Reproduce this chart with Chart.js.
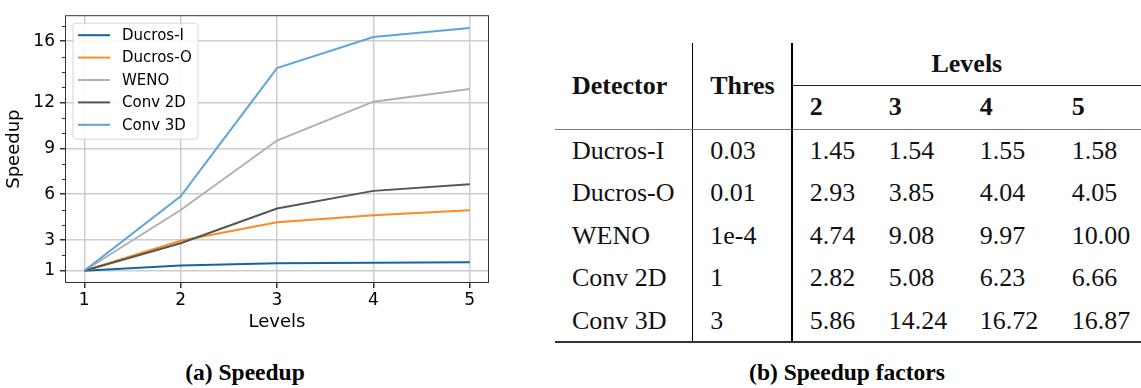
<!DOCTYPE html>
<html lang="en">
<head>
  <meta charset="UTF-8">
  <title>Speedup</title>
  <script src="https://cdn.jsdelivr.net/npm/chart.js"></script>
  <style>
    body {
      margin: 0;
      width: 1141px;
      height: 388px;
      background: #fff;
      position: relative;
      overflow: hidden;
    }
    #chartBox {
      position: absolute;
      left: 0;
      top: 0;
      width: 500px;
      height: 340px;
    }
    .caption {
      position: absolute;
      top: 360px;
      width: 400px;
      text-align: center;
      font-family: 'Liberation Serif', serif;
      font-weight: bold;
      font-size: 23.5px;
      line-height: 24px;
      color: #000;
    }
    #factors {
      position: absolute;
      left: 555px;
      top: 43px;
      border-collapse: collapse;
      table-layout: fixed;
      font-family: 'Liberation Serif', serif;
      font-size: 26px;
      line-height: 30px;
      color: #111;
    }
    #factors td, #factors th {
      padding: 0 0 0 17px;
      text-align: left;
      white-space: nowrap;
    }
    #factors th { font-weight: bold; }
    #factors .sep { border-right: 1px solid #000; }
    #factors .thick { border-right: 2.5px solid #000; }
    #factors tr.head1 { height: 42px; }
    #factors tr.head2 { height: 44px; }
    #factors tr.body { height: 42.7px; }
    #factors .levels { text-align: center; padding: 0; border-bottom: 1px solid #222; }
    #factors .mid { border-bottom: 1.5px solid #777; }
    #factors tr.last td { border-bottom: 2px solid #333; }
  </style>
</head>
<body>
  <div id="chartBox"><canvas id="speedupChart" width="500" height="340"></canvas></div>
  <div class="caption" style="left:45px">(a) Speedup</div>

  <table id="factors">
    <colgroup>
      <col style="width:137.7px"><col style="width:99px"><col style="width:80px">
      <col style="width:91px"><col style="width:92px"><col style="width:86.3px">
    </colgroup>
    <thead id="factorsHead"></thead>
    <tbody id="factorsBody"></tbody>
  </table>
  <div class="caption" style="left:647px">(b) Speedup factors</div>

  <script>
    // valores do gráfico
    const levels = [1, 2, 3, 4, 5];
    const seriesNames = ['Ducros-I', 'Ducros-O', 'WENO', 'Conv 2D', 'Conv 3D'];
    const ducrosI = [1, 1.34, 1.49, 1.53, 1.55];
    const ducrosO = [1, 2.96, 4.17, 4.63, 4.95];
    const weno = [1, 4.97, 9.51, 12.05, 12.87];
    const conv2d = [1, 2.80, 5.07, 6.22, 6.66];
    const conv3d = [1, 5.86, 14.24, 16.27, 16.86];
    const yTicks = [1, 3, 6, 9, 12, 16];

    // valores da tabela
    const thresholds = ['0.03', '0.01', '1e-4', '1', '3'];
    const tableLevels = ['2', '3', '4', '5'];
    const factorRows = [
      ['1.45', '1.54', '1.55', '1.58'],
      ['2.93', '3.85', '4.04', '4.05'],
      ['4.74', '9.08', '9.97', '10.00'],
      ['2.82', '5.08', '6.23', '6.66'],
      ['5.86', '14.24', '16.72', '16.87']
    ];

    const colors = ['#1366a6', '#ff8a1f', '#b0b0b0', '#555555', '#5ea5dc'];
    const allSeries = [ducrosI, ducrosO, weno, conv2d, conv3d];

    // monta a tabela
    document.getElementById('factorsHead').innerHTML =
      '<tr class="head1">' +
        '<th rowspan="2" class="sep mid">Detector</th>' +
        '<th rowspan="2" class="thick mid">Thres</th>' +
        '<th colspan="4" class="levels">Levels</th>' +
      '</tr>' +
      '<tr class="head2">' + tableLevels.map(l => '<th class="mid">' + l + '</th>').join('') + '</tr>';

    document.getElementById('factorsBody').innerHTML = seriesNames.map((nome, i) =>
      '<tr class="body' + (i === seriesNames.length - 1 ? ' last' : '') + '">' +
        '<td class="sep">' + nome + '</td>' +
        '<td class="thick">' + thresholds[i] + '</td>' +
        factorRows[i].map(v => '<td>' + v + '</td>').join('') +
      '</tr>'
    ).join('');

    // legenda dentro da área do gráfico
    const legendaInterna = {
      id: 'legendaInterna',
      afterDraw(chart) {
        const { ctx, chartArea } = chart;
        const x = chartArea.left + 8, y = chartArea.top + 8;
        ctx.save();
        ctx.beginPath();
        ctx.roundRect(x, y, 125, 116, 3);
        ctx.fillStyle = 'rgba(255,255,255,0.85)';
        ctx.fill();
        ctx.strokeStyle = '#d6d6d6';
        ctx.lineWidth = 1;
        ctx.stroke();
        ctx.font = '15px "DejaVu Sans"';
        ctx.textBaseline = 'middle';
        ctx.fillStyle = '#000';
        chart.data.datasets.forEach((ds, i) => {
          const cy = y + 12 + i * 22.4;
          ctx.beginPath();
          ctx.moveTo(x + 5, cy);
          ctx.lineTo(x + 37, cy);
          ctx.strokeStyle = ds.borderColor;
          ctx.lineWidth = 2;
          ctx.stroke();
          ctx.fillText(ds.label, x + 49, cy + 1);
        });
        ctx.restore();
      }
    };

    // moldura e ticks menores do eixo y
    const moldura = {
      id: 'moldura',
      afterDraw(chart) {
        const { ctx, chartArea } = chart;
        const y = chart.scales.y;
        ctx.save();
        ctx.strokeStyle = '#333';
        ctx.lineWidth = 1;
        for (let v = Math.ceil(y.min); v <= y.max; v++) {
          if (yTicks.includes(v)) continue;
          const py = Math.round(y.getPixelForValue(v)) + 0.5;
          ctx.beginPath();
          ctx.moveTo(chartArea.left - 3, py);
          ctx.lineTo(chartArea.left, py);
          ctx.stroke();
        }
        ctx.strokeRect(chartArea.left + 0.5, chartArea.top + 0.5,
          chartArea.right - chartArea.left - 1, chartArea.bottom - chartArea.top - 1);
        ctx.restore();
      }
    };

    new Chart(document.getElementById('speedupChart'), {
      type: 'line',
      data: {
        datasets: allSeries.map((serie, i) => ({
          label: seriesNames[i],
          data: levels.map((l, j) => ({ x: l, y: serie[j] })),
          borderColor: colors[i],
          borderWidth: 2,
          pointRadius: 0,
          fill: false,
          tension: 0,
          order: allSeries.length - i
        }))
      },
      options: {
        responsive: false,
        animation: false,
        devicePixelRatio: 1,
        layout: { padding: { top: 7, right: 11, left: 0, bottom: 0 } },
        plugins: { legend: { display: false }, tooltip: { enabled: false } },
        scales: {
          x: {
            type: 'linear',
            min: 0.8,
            max: 5.2,
            afterBuildTicks: s => { s.ticks = levels.map(v => ({ value: v })); },
            afterFit: s => { s.height = 57; },
            grid: { color: '#cdcdcd', lineWidth: 1.5, tickColor: '#333', tickLength: 5 },
            border: { display: false },
            ticks: { font: { family: 'DejaVu Sans', size: 17 }, color: '#000', padding: 2, maxRotation: 0 },
            title: { display: true, text: 'Levels', font: { family: 'DejaVu Sans', size: 18 }, color: '#000', padding: { top: 0, bottom: 6.5 } }
          },
          y: {
            type: 'linear',
            min: 0.2,
            max: 17.7,
            afterBuildTicks: s => { s.ticks = yTicks.map(v => ({ value: v })); },
            afterFit: s => { s.width = 65; },
            grid: { color: '#cdcdcd', lineWidth: 1.5, tickColor: '#333', tickLength: 5 },
            border: { display: false },
            ticks: { font: { family: 'DejaVu Sans', size: 17 }, color: '#000', padding: 5 },
            title: { display: true, text: 'Speedup', font: { family: 'DejaVu Sans', size: 18 }, color: '#000', padding: { top: 4, bottom: 0 } }
          }
        }
      },
      plugins: [legendaInterna, moldura]
    });
  </script>
</body>
</html>
